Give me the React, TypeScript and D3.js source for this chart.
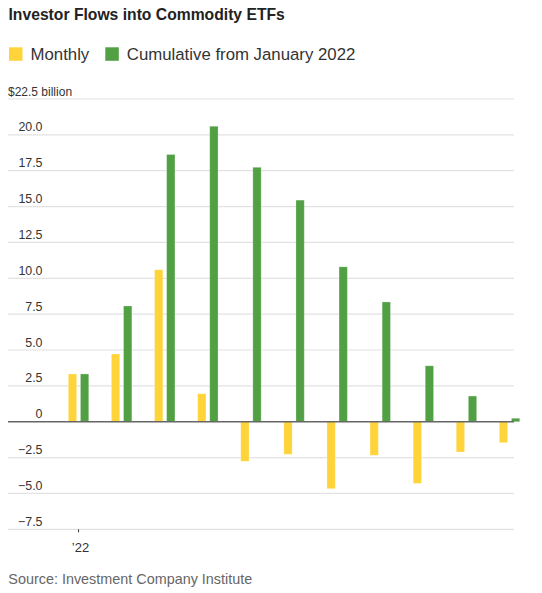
import React, { useEffect, useRef } from "react";
import * as d3 from "d3";

const months = ["Jan", "Feb", "Mar", "Apr", "May", "Jun", "Jul", "Aug", "Sep", "Oct", "Nov"];
const monthly = [3.33, 4.72, 10.6, 1.95, -2.76, -2.27, -4.67, -2.34, -4.3, -2.11, -1.46];
const cumulative = [3.33, 8.07, 18.63, 20.6, 17.74, 15.45, 10.8, 8.35, 3.9, 1.79, 0.24];
const yTicks = [-7.5, -5, -2.5, 0, 2.5, 5, 7.5, 10, 12.5, 15, 17.5, 20, 22.5];
const xTickLabels = [{ month: "Jan", label: "\u201922" }];
const seriesNames = ["Monthly", "Cumulative from January 2022"];
const seriesColors = ["#FFD43B", "#51A044"];

const W = 542;
const H = 593;
const FONT = "'Liberation Sans', Arial, sans-serif";

export default function App() {
  const ref = useRef<SVGSVGElement>(null);

  useEffect(() => {
    const svg = d3.select(ref.current);
    svg.selectAll("*").remove();

    const y = d3.scaleLinear().domain([-7.5, 22.5]).range([529.3, 99]);
    const x = d3.scaleBand<string>().domain(months).range([57, 531.1]);
    const sub = d3.scaleBand<string>().domain(["m", "c"]).range([-10.2, 10.2]).paddingInner(0.314);
    const cx = (m: string) => (x(m) as number) + x.bandwidth() / 2;

    // title
    svg.append("text")
      .attr("x", 8.5).attr("y", 20)
      .attr("font-family", FONT).attr("font-weight", 700).attr("font-size", 15.7)
      .attr("fill", "#222")
      .text("Investor Flows into Commodity ETFs");

    // legend
    const legX = [9, 105.3];
    seriesNames.forEach((n, i) => {
      svg.append("rect").attr("x", legX[i]).attr("y", 47.3).attr("width", 13.5).attr("height", 13.5).attr("fill", seriesColors[i]);
      svg.append("text")
        .attr("x", legX[i] + 21.5).attr("y", 60)
        .attr("font-family", FONT).attr("font-size", 16.8).attr("fill", "#333")
        .text(n);
    });

    // grid
    const g = svg.append("g");
    yTicks.filter((t) => t !== 0).forEach((t) => {
      g.append("line")
        .attr("x1", 8).attr("x2", 514)
        .attr("y1", y(t)).attr("y2", y(t))
        .attr("stroke", "#e2e2e2").attr("stroke-width", 1.2);
    });
    yTicks.forEach((t) => {
      if (t === 22.5) {
        g.append("text")
          .attr("x", 8).attr("y", y(t) - 3)
          .attr("font-family", FONT).attr("font-size", 12).attr("fill", "#333")
          .text("$22.5 billion");
      } else {
        g.append("text")
          .attr("x", 42.5).attr("y", y(t) - 3.5)
          .attr("text-anchor", "end")
          .attr("font-family", FONT).attr("font-size", 12.4).attr("fill", "#333")
          .text(t === 0 ? "0" : d3.format(".1f")(t));
      }
    });

    // bars
    const bars = svg.append("g");
    months.forEach((m, i) => {
      const vals = [monthly[i], cumulative[i]];
      ["m", "c"].forEach((k, j) => {
        const v = vals[j];
        bars.append("rect")
          .attr("x", cx(m) + (sub(k) as number))
          .attr("width", sub.bandwidth())
          .attr("y", Math.min(y(v), y(0)))
          .attr("height", Math.abs(y(v) - y(0)))
          .attr("fill", seriesColors[j])
          .attr("stroke", "#fff").attr("stroke-opacity", 0.3).attr("stroke-width", 0.8);
      });
    });

    // zero line
    svg.append("line")
      .attr("x1", 8).attr("x2", 514)
      .attr("y1", y(0)).attr("y2", y(0))
      .attr("stroke", "#666").attr("stroke-width", 1.6);

    // x ticks
    xTickLabels.forEach((tk) => {
      svg.append("line")
        .attr("x1", cx(tk.month)).attr("x2", cx(tk.month))
        .attr("y1", y(-7.5)).attr("y2", y(-7.5) + 3)
        .attr("stroke", "#333").attr("stroke-width", 1);
      svg.append("text")
        .attr("x", cx(tk.month) + 2).attr("y", 551.5)
        .attr("text-anchor", "middle")
        .attr("font-family", FONT).attr("font-size", 13).attr("fill", "#333")
        .text(tk.label);
    });

    // source
    svg.append("text")
      .attr("x", 8.3).attr("y", 584)
      .attr("font-family", FONT).attr("font-size", 14.4).attr("fill", "#666")
      .text("Source: Investment Company Institute");
  }, []);

  return (
    <div style={{ position: "absolute", left: 0, top: 0 }}>
      <svg ref={ref} width={W} height={H} style={{ display: "block", background: "#fff" }} />
    </div>
  );
}
